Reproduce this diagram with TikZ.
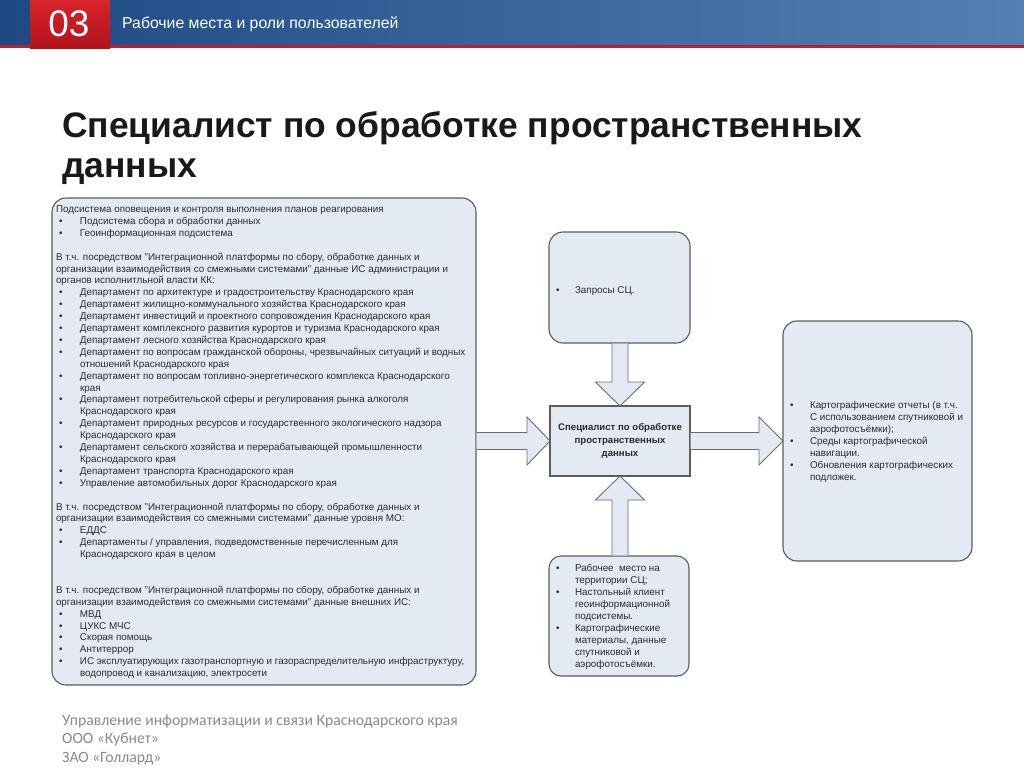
\documentclass[tikz,border=0pt]{standalone}
\usepackage{fontspec}
\setmainfont{Liberation Sans}
\newfontfamily\footfont{Carlito}
\usetikzlibrary{calc}
\definecolor{boxfill}{HTML}{E4EAF3}
\definecolor{boxline}{HTML}{5C5C5C}
\definecolor{txt}{HTML}{2A2A2A}
\definecolor{hdrL}{HTML}{1E4A84}
\definecolor{hdrR}{HTML}{5280B4}
\definecolor{redT}{HTML}{D8232B}
\definecolor{redB}{HTML}{B0141C}
\definecolor{redline}{HTML}{B5232B}
\definecolor{foot}{HTML}{8A8A8A}
\newcommand{\bl}[1]{\makebox[24pt][l]{\hspace{3pt}\textbullet}#1}
\newcommand{\bm}[1]{\makebox[21pt][l]{\hspace{2pt}\textbullet}#1}
\newcommand{\cl}[1]{\hspace*{24pt}#1}
\newcommand{\cm}[1]{\hspace*{21pt}#1}
\begin{document}
\begin{tikzpicture}[x=1pt,y=-1pt,
  rbox/.style={draw=boxline, fill=boxfill, line width=1.1pt, rounded corners=14pt, inner sep=0pt, outer sep=0pt},
  cbox/.style={draw=boxline, fill=boxfill, line width=1.1pt, inner sep=0pt, outer sep=0pt, minimum width=140pt, minimum height=70pt},
  blockarrow/.style={draw=boxline!90, fill=boxfill, line width=0.9pt, line join=miter},
  small/.style={inner sep=0pt, outer sep=0pt, text=txt, font=\fontsize{9.85}{11.9}\selectfont},
]
\useasboundingbox (0,0) rectangle (1024,768);
\fill[white] (0,0) rectangle (1024,768);
% header
\shade[left color=hdrL, right color=hdrR] (0,0) rectangle (1024,46);
\fill[redline] (0,45) rectangle (1024,48.5);
\shade[top color=redT, bottom color=redB] (30,0) rectangle (110,48.5);
\node[anchor=base, text=white, font=\fontsize{37}{37}\selectfont, inner sep=0pt] (num) at (69,37) {03};
\node[anchor=base west, text=white, font=\fontsize{15.8}{15.8}\selectfont, inner sep=0pt] (hdr) at (122,29) {Рабочие места и роли пользователей};
% title
\node[anchor=base west, inner sep=0pt, text=black!90, font=\bfseries\fontsize{35.4}{40}\selectfont] (title) at (62,137)
  {\parbox[t]{950pt}{Специалист по обработке пространственных\\данных}};
% boxes
\node[rbox, minimum width=424pt, minimum height=487pt] (L) at (264,441.5) {};
\node[rbox, minimum width=141pt, minimum height=111pt] (T) at (619.5,287.5) {};
\node[rbox, minimum width=189pt, minimum height=240pt] (R) at (877.5,441) {};
\node[rbox, rounded corners=12pt, minimum width=140pt, minimum height=120pt] (B) at (619,616) {};
\node[cbox, text=txt, align=center, font=\bfseries\fontsize{9.6}{12.7}\selectfont] (C) at (620,441)
  {Специалист по обработке\\пространственных\\данных};
% arrows
\draw[blockarrow] ($(L.east|-C.west)+(0.55,-8.5)$) -- ($(C.west)+(-23,-8.5)$) -- ($(C.west)+(-23,-24)$) -- (C.west)
  -- ($(C.west)+(-23,24)$) -- ($(C.west)+(-23,8.5)$) -- ($(L.east|-C.west)+(0.55,8.5)$);
\draw[blockarrow] ($(C.east)+(0.55,-8.5)$) -- ($(R.west|-C.east)+(-24,-8.5)$) -- ($(R.west|-C.east)+(-24,-24)$) -- (R.west|-C.east)
  -- ($(R.west|-C.east)+(-24,24)$) -- ($(R.west|-C.east)+(-24,8.5)$) -- ($(C.east)+(0.55,8.5)$);
\draw[blockarrow] ($(C.north|-T.south)+(-8,0.55)$) -- ($(C.north)+(-8,-24)$) -- ($(C.north)+(-24.5,-24)$) -- (C.north)
  -- ($(C.north)+(24.5,-24)$) -- ($(C.north)+(8,-24)$) -- ($(C.north|-T.south)+(8,0.55)$);
\draw[blockarrow] ($(C.south|-B.north)+(-8,-0.55)$) -- ($(C.south)+(-8,24)$) -- ($(C.south)+(-24.5,24)$) -- (C.south)
  -- ($(C.south)+(24.5,24)$) -- ($(C.south)+(8,24)$) -- ($(C.south|-B.north)+(8,-0.55)$);
% left box text
\node[small, anchor=base west] (Ltext) at (56,212.5) {\parbox[t]{430pt}{%
Подсистема оповещения и контроля выполнения планов реагирования\\
\bl{Подсистема сбора и обработки данных}\\
\bl{Геоинформационная подсистема}\\
\mbox{}\\
В т.ч. посредством "Интеграционной платформы по сбору, обработке данных и\\
организации взаимодействия со смежными системами" данные ИС администрации и\\
органов исполнитльной власти КК:\\
\bl{Департамент по архитектуре и градостроительству Краснодарского края}\\
\bl{Департамент жилищно-коммунального хозяйства Краснодарского края}\\
\bl{Департамент инвестиций и проектного сопровождения Краснодарского края}\\
\bl{Департамент комплексного развития курортов и туризма Краснодарского края}\\
\bl{Департамент лесного хозяйства Краснодарского края}\\
\bl{Департамент по вопросам гражданской обороны, чрезвычайных ситуаций и водных}\\
\cl{отношений Краснодарского края}\\
\bl{Департамент по вопросам топливно-энергетического комплекса Краснодарского}\\
\cl{края}\\
\bl{Департамент потребительской сферы и регулирования рынка алкоголя}\\
\cl{Краснодарского края}\\
\bl{Департамент природных ресурсов и государственного экологического надзора}\\
\cl{Краснодарского края}\\
\bl{Департамент сельского хозяйства и перерабатывающей промышленности}\\
\cl{Краснодарского края}\\
\bl{Департамент транспорта Краснодарского края}\\
\bl{Управление автомобильных дорог Краснодарского края}\\
\mbox{}\\
В т.ч. посредством "Интеграционной платформы по сбору, обработке данных и\\
организации взаимодействия со смежными системами" данные уровня МО:\\
\bl{ЕДДС}\\
\bl{Департаменты / управления, подведомственные перечисленным для}\\
\cl{Краснодарского края в целом}\\
\mbox{}\\
\mbox{}\\
В т.ч. посредством "Интеграционной платформы по сбору, обработке данных и\\
организации взаимодействия со смежными системами" данные внешних ИС:\\
\bl{МВД}\\
\bl{ЦУКС МЧС}\\
\bl{Скорая помощь}\\
\bl{Антитеррор}\\
\bl{ИС эксплуатирующих газотранспортную и газораспределительную инфраструктуру,}\\
\cl{водопровод и канализацию, электросети}}};
% top box text
\node[small, anchor=base west] (Ttext) at (554,293) {\bm{Запросы СЦ.}};
% right box text
\node[small, anchor=base west, font=\fontsize{9.85}{12}\selectfont] (Rtext) at (787,408) {\parbox[t]{185pt}{%
\makebox[23pt][l]{\hspace{3pt}\textbullet}Картографические отчеты (в т.ч.\\
\hspace*{23pt}С использованием спутниковой и\\
\hspace*{23pt}аэрофотосъёмки);\\
\makebox[23pt][l]{\hspace{3pt}\textbullet}Среды картографической\\
\hspace*{23pt}навигации.\\
\makebox[23pt][l]{\hspace{3pt}\textbullet}Обновления картографических\\
\hspace*{23pt}подложек.}};
% bottom box text
\node[small, anchor=base west, font=\fontsize{9.85}{12}\selectfont] (Btext) at (554,571) {\parbox[t]{135pt}{%
\bm{Рабочее\ \ место на}\\
\cm{территории СЦ;}\\
\bm{Настольный клиент}\\
\cm{геоинформационной}\\
\cm{подсистемы.}\\
\bm{Картографические}\\
\cm{материалы, данные}\\
\cm{спутниковой и}\\
\cm{аэрофотосъёмки.}}};
% footer
\node[anchor=base west, inner sep=0pt, text=foot, font=\footfont\fontsize{15.7}{18.5}\selectfont] (footer) at (62,725)
  {\parbox[t]{500pt}{Управление информатизации и связи Краснодарского края\\ООО «Кубнет»\\ЗАО «Голлард»}};
\end{tikzpicture}
\end{document}
